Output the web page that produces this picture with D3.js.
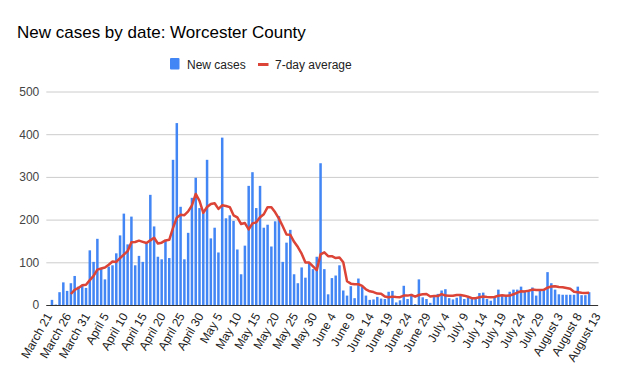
<!DOCTYPE html>
<html>
<head>
<meta charset="utf-8">
<script src="https://cdn.jsdelivr.net/npm/d3@7"></script>
<style>
  html, body { margin: 0; padding: 0; background: #fff; }
  svg { display: block; font-family: "Liberation Sans", Arial, sans-serif; }
</style>
</head>
<body>
<svg id="chart" width="618" height="382"></svg>
<script>
// ---- data ----
const startDate = "2020-03-21";
const endDate = "2020-08-13";
const tickLabels = ["March 21","March 26","March 31","April 5","April 10","April 15","April 20","April 25","April 30","May 5","May 10","May 15","May 20","May 25","May 30","June 4","June 9","June 14","June 19","June 24","June 29","July 4","July 9","July 14","July 19","July 24","July 29","August 3","August 8","August 13"];
const yTicks = [0, 100, 200, 300, 400, 500];
const newCases = [0,12,1,30,53,33,51,68,43,45,40,128,101,155,86,60,90,93,121,163,
  214,142,207,93,115,101,144,258,184,113,107,152,110,340,426,230,107,169,251,298,
  227,215,340,156,181,123,392,203,210,197,130,72,139,279,311,227,279,181,188,137,
  196,208,101,146,176,72,51,88,64,99,84,113,332,84,25,63,69,93,34,22,
  44,16,62,43,22,12,13,19,15,14,31,33,6,11,45,14,26,2,60,18,
  14,5,21,26,34,37,16,13,17,22,14,17,14,16,28,29,14,10,20,36,
  21,22,31,36,36,43,34,32,41,22,36,36,77,51,36,25,24,24,24,24,
  43,23,23,30];
const sevenDayAvg = [null,null,null,null,null,null,25.7,35.4,39.9,46.1,47.6,58.3,68.0,82.9,85.4,87.9,94.3,101.9,100.9,109.7,
  118.1,126.1,147.1,147.6,150.7,147.9,145.1,151.4,157.4,144.0,146.0,151.3,152.6,180.6,204.6,211.1,210.3,219.1,233.3,260.1,
  244.0,216.0,229.6,236.6,238.3,225.0,233.4,232.0,229.3,210.0,205.1,189.6,191.9,177.0,191.1,193.6,205.3,212.6,229.1,228.9,
  217.0,202.3,184.3,165.3,164.6,148.0,135.7,120.3,99.7,99.4,90.6,81.6,118.7,123.4,114.4,114.3,110.0,111.3,100.0,55.7,
  50.0,48.7,48.6,44.9,36.5,32.0,30.3,26.7,26.6,19.7,18.0,19.6,18.7,18.4,22.1,22.0,23.7,19.6,23.4,25.1,
  25.6,19.9,20.9,20.9,25.4,22.1,21.9,21.7,23.4,23.6,21.9,19.4,16.1,16.1,18.3,20.0,18.9,18.3,18.7,21.9,
  22.6,21.7,22.0,25.1,28.9,32.1,31.9,33.4,36.1,34.9,34.9,35.5,40.5,43.5,44.0,42.0,41.5,40.0,38.0,31.0,
  30.0,28.5,28.0,28.5];

// ---- setup ----
const parse = d3.timeParse("%Y-%m-%d");
const days = d3.timeDays(parse(startDate), d3.timeDay.offset(parse(endDate), 1));
const svg = d3.select("#chart");

const plot = { left: 46.3, right: 598.6, top: 91.5, bottom: 305 };

const x = d3.scaleBand()
  .domain(days)
  .range([plot.left, plot.right])
  .paddingInner(0.34)
  .paddingOuter(0.17);
const cx = d => x(d) + x.bandwidth() / 2;

const y = d3.scaleLinear().domain([0, 500]).range([plot.bottom, plot.top]);

// Title
svg.append("text")
  .attr("x", 17).attr("y", 38)
  .attr("font-size", 17)
  .attr("fill", "#000")
  .text("New cases by date: Worcester County");

// Legend
const lg = svg.append("g");
lg.append("rect").attr("x", 170).attr("y", 58).attr("width", 9.5).attr("height", 11.5).attr("rx", 1).attr("fill", "#4285F4");
lg.append("text").attr("x", 187).attr("y", 68.5).attr("font-size", 12).attr("fill", "#222").text("New cases");
lg.append("line").attr("x1", 258).attr("x2", 268.5).attr("y1", 64.5).attr("y2", 64.5)
  .attr("stroke", "#DB4437").attr("stroke-width", 3);
lg.append("text").attr("x", 275).attr("y", 68.5).attr("font-size", 12).attr("fill", "#222").text("7-day average");

// Y axis + grid
const yAxis = svg.append("g")
  .attr("transform", `translate(${plot.left},0)`)
  .call(d3.axisLeft(y).tickValues(yTicks).tickSize(-(plot.right - plot.left)).tickPadding(7).tickFormat(d3.format("d")));
yAxis.select(".domain").remove();
yAxis.selectAll(".tick line").attr("stroke", "#cccccc").attr("stroke-width", 1);
yAxis.selectAll(".tick text").attr("font-size", 12).attr("fill", "#444").attr("font-family", "Liberation Sans, Arial, sans-serif");

// Bars
svg.append("g").selectAll("rect")
  .data(newCases.map((v, i) => ({ d: days[i], v })))
  .join("rect")
  .attr("x", d => x(d.d))
  .attr("width", x.bandwidth())
  .attr("y", d => y(d.v))
  .attr("height", d => y(0) - y(d.v))
  .attr("fill", "#4285F4");

// Baseline
svg.append("line")
  .attr("x1", plot.left).attr("x2", plot.right - 0.6)
  .attr("y1", y(0) + 0.5).attr("y2", y(0) + 0.5)
  .attr("stroke", "#333").attr("stroke-width", 1);

// 7-day average line
const lineData = sevenDayAvg.map((v, i) => ({ d: days[i], v })).filter(p => p.v !== null);
svg.append("path")
  .datum(lineData)
  .attr("fill", "none")
  .attr("stroke", "#DB4437")
  .attr("stroke-width", 2.5)
  .attr("stroke-linejoin", "round")
  .attr("d", d3.line().x(p => cx(p.d)).y(p => y(p.v)));

// X axis labels
const tickDays = days.filter((d, i) => i % 5 === 0);
const xAxis = svg.append("g")
  .attr("transform", `translate(0,${plot.bottom})`)
  .call(d3.axisBottom(x).tickValues(tickDays).tickSize(0).tickFormat((d, i) => tickLabels[i]));
xAxis.select(".domain").remove();
xAxis.selectAll(".tick text")
  .attr("font-size", 12)
  .attr("fill", "#222")
  .attr("font-family", "Liberation Sans, Arial, sans-serif")
  .attr("text-anchor", "end")
  .attr("dy", null)
  .attr("y", 0)
  .attr("transform", "translate(4.5,11) rotate(-60)");
</script>
</body>
</html>
